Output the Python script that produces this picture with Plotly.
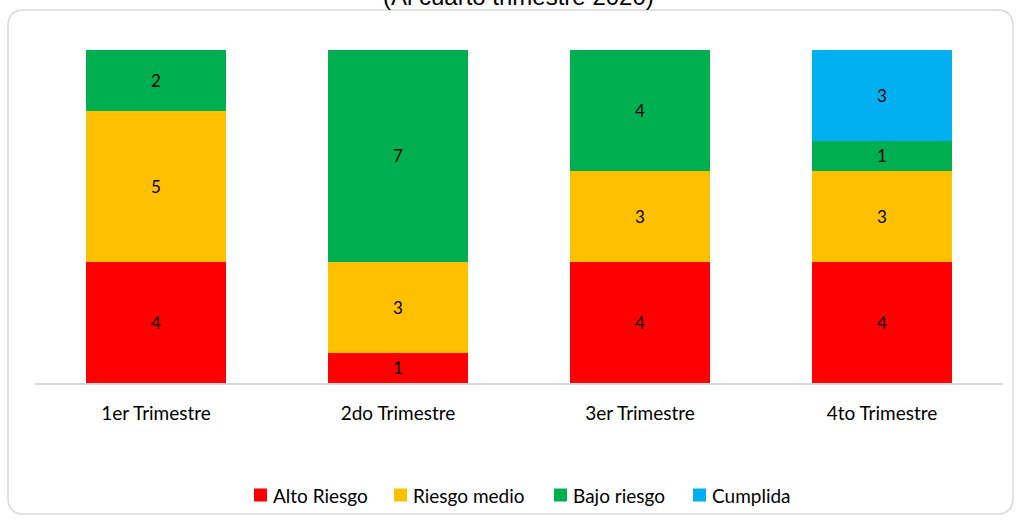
import plotly.graph_objects as go

categories = ["1er Trimestre", "2do Trimestre", "3er Trimestre", "4to Trimestre"]
alto_riesgo = [4, 1, 4, 4]
riesgo_medio = [5, 3, 3, 3]
bajo_riesgo = [2, 7, 4, 1]
cumplida = [0, 0, 0, 3]
series_names = ["Alto Riesgo", "Riesgo medio", "Bajo riesgo", "Cumplida"]
series_values = [alto_riesgo, riesgo_medio, bajo_riesgo, cumplida]
series_colors = ["#FF0000", "#FFC000", "#00B050", "#00B0F0"]

W, H = 1016, 524
L, R, T, B = 35, 13, 50, 141
pw, ph = W - L - R, H - T - B

def px(x):
    return (x - L) / pw

def py(y):
    return (H - B - y) / ph

FONT = "Lato"

fig = go.Figure()
for name, vals, color in zip(series_names, series_values, series_colors):
    fig.add_trace(go.Bar(
        x=categories, y=vals, name=name,
        marker=dict(color=color, line=dict(width=0)),
        text=[str(v) if v else "" for v in vals],
        textposition="inside", insidetextanchor="middle",
        textangle=0,
        textfont=dict(color="#000000", size=17, family=FONT),
        hoverinfo="skip", showlegend=False,
    ))

# rounded border path in paper coordinates
x0, x1, y0, y1, r = 8, 1013, 10, 514, 16
rx, ry = r / pw, r / ph
X0, X1, Y0, Y1 = px(x0), px(x1), py(y1), py(y0)
path = (f"M {X0+rx},{Y1} L {X1-rx},{Y1} Q {X1},{Y1} {X1},{Y1-ry} "
        f"L {X1},{Y0+ry} Q {X1},{Y0} {X1-rx},{Y0} "
        f"L {X0+rx},{Y0} Q {X0},{Y0} {X0},{Y0+ry} "
        f"L {X0},{Y1-ry} Q {X0},{Y1} {X0+rx},{Y1} Z")

shapes = [dict(type="path", path=path, xref="paper", yref="paper",
               line=dict(color="#D9D9D9", width=1.5), fillcolor="rgba(0,0,0,0)", layer="below")]
annotations = [dict(text="(Al cuarto trimestre 2020)", xref="paper", yref="paper",
                    x=px(518), y=py(-4), xanchor="center", yanchor="middle",
                    showarrow=False, font=dict(family="Liberation Sans", size=24, color="#000000"))]

# manual legend (layout positions in pixels)
legend_sq_x = [254, 394, 554, 693]
legend_txt_x = [271, 411, 571, 710]
legend_y, sq = 495, 13
for name, color, sx, tx in zip(series_names, series_colors, legend_sq_x, legend_txt_x):
    shapes.append(dict(type="rect", xref="paper", yref="paper",
                       x0=px(sx), x1=px(sx + sq), y0=py(legend_y + sq / 2), y1=py(legend_y - sq / 2),
                       fillcolor=color, line=dict(width=0)))
    annotations.append(dict(text=name, xref="paper", yref="paper", x=px(tx), y=py(legend_y),
                            xanchor="left", yanchor="middle", showarrow=False,
                            font=dict(family=FONT, size=19, color="#000000")))

fig.update_layout(
    width=W, height=H,
    margin=dict(l=L, r=R, t=T, b=B),
    paper_bgcolor="white", plot_bgcolor="white",
    barmode="stack", bargap=0.42,
    showlegend=False,
    xaxis=dict(showline=True, linecolor="#D9D9D9", linewidth=2, ticks="",
               ticklabelstandoff=12,
               tickfont=dict(family=FONT, size=19, color="#000000"),
               fixedrange=True),
    yaxis=dict(range=[0, 11], visible=False, showgrid=False, fixedrange=True),
    shapes=shapes,
    annotations=annotations,
)

fig.write_html("out.html", config={"displayModeBar": False},
               post_script="document.body.style.margin='0';")
